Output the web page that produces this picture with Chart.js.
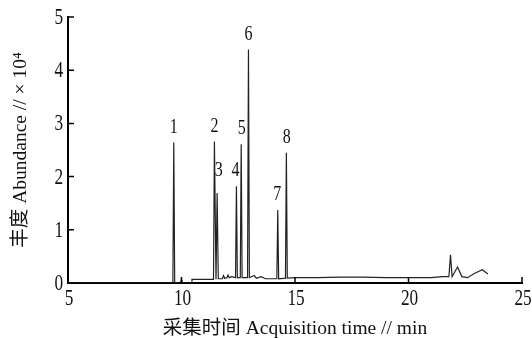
<!DOCTYPE html>
<html>
<head>
<meta charset="utf-8">
<script src="https://cdn.jsdelivr.net/npm/chart.js@4/dist/chart.umd.min.js"></script>
<style>
  html, body { margin: 0; padding: 0; background: #fff; }
  #wrap { width: 532px; height: 338px; }
</style>
</head>
<body>
<div id="wrap"><canvas id="chrom"></canvas></div>
<script>
// Chromatogram trace
const traceTime = [5, 9.62, 9.66, 9.70, 9.96, 9.99, 10.02, 10.45, 10.46, 11.0,
    11.41, 11.45, 11.52, 11.57, 11.62, 11.8, 11.85, 11.9, 12.0, 12.05,
    12.1, 12.2, 12.38, 12.42, 12.46, 12.59, 12.63, 12.67, 12.91, 12.95,
    12.99, 13.2, 13.3, 13.5, 13.7, 14.2, 14.24, 14.28, 14.58, 14.62,
    14.66, 15, 16, 17, 18, 19, 20, 21, 21.5, 21.78,
    21.85, 21.92, 22.0, 22.16, 22.35, 22.6, 22.9, 23.25, 23.5];
const traceAbundance = [0, 0, 2.64, 0, 0, 0.06, 0, 0, 0.07, 0.07,
    0.07, 2.66, 0.07, 1.69, 0.08, 0.08, 0.14, 0.09, 0.1, 0.15,
    0.1, 0.12, 0.1, 1.82, 0.1, 0.1, 2.61, 0.1, 0.1, 4.39,
    0.1, 0.14, 0.09, 0.12, 0.08, 0.08, 1.37, 0.08, 0.09, 2.45,
    0.09, 0.1, 0.1, 0.11, 0.11, 0.1, 0.1, 0.1, 0.12, 0.12,
    0.53, 0.12, 0.18, 0.3, 0.12, 0.1, 0.18, 0.25, 0.17];

// Peak numbers and where they sit
const peakLabels = ['1', '2', '3', '4', '5', '6', '7', '8'];
const peakTimes = [9.66, 11.45, 11.64, 12.38, 12.65, 12.95, 14.22, 14.64];
const labelTops = [2.64, 2.66, 1.83, 1.82, 2.61, 4.39, 1.37, 2.45];

const xTicks = [5, 10, 15, 20, 25];
const yTicks = [0, 1, 2, 3, 4, 5];

const serif = "'Liberation Serif', 'Noto Sans CJK SC', serif";

const points = traceTime.map((t, i) => ({ x: t, y: traceAbundance[i] }));

// narrow serif text like the original figure
function squeezed(ctx, text, x, y, sx) {
    ctx.save();
    ctx.translate(x, y);
    ctx.scale(sx, 1);
    ctx.fillText(text, 0, 0);
    ctx.restore();
}

// inward tick marks + tick labels on both axes
const axisDecor = {
    id: 'axisDecor',
    afterDraw(chart) {
        const ctx = chart.ctx;
        const xs = chart.scales.x, ys = chart.scales.y;
        ctx.save();
        ctx.strokeStyle = '#000';
        ctx.lineWidth = 1.5;
        ctx.beginPath();
        xTicks.forEach(v => {
            const px = xs.getPixelForValue(v);
            ctx.moveTo(px, ys.bottom);
            ctx.lineTo(px, ys.bottom - 6);
        });
        yTicks.forEach(v => {
            const py = ys.getPixelForValue(v);
            ctx.moveTo(xs.left, py);
            ctx.lineTo(xs.left + 6, py);
        });
        ctx.stroke();

        ctx.fillStyle = '#111';
        ctx.font = '23px ' + serif;
        ctx.textAlign = 'center';
        ctx.textBaseline = 'top';
        xTicks.forEach(v => squeezed(ctx, String(v), xs.getPixelForValue(v) + 1, ys.bottom + 4, 0.75));
        ctx.textAlign = 'right';
        ctx.textBaseline = 'middle';
        yTicks.forEach(v => squeezed(ctx, String(v), xs.left - 5, ys.getPixelForValue(v) + 1, 0.75));
        ctx.restore();
    }
};

// peak number labels
const peakNumbers = {
    id: 'peakNumbers',
    afterDatasetsDraw(chart) {
        const ctx = chart.ctx;
        const xs = chart.scales.x, ys = chart.scales.y;
        ctx.save();
        ctx.fillStyle = '#111';
        ctx.font = '20px ' + serif;
        ctx.textAlign = 'center';
        ctx.textBaseline = 'bottom';
        peakLabels.forEach((lab, i) => {
            squeezed(ctx, lab, xs.getPixelForValue(peakTimes[i]), ys.getPixelForValue(labelTops[i]) - 5, 0.8);
        });
        ctx.restore();
    }
};

new Chart(document.getElementById('chrom').getContext('2d'), {
    type: 'line',
    data: {
        datasets: [{
            data: points,
            borderColor: '#222',
            borderWidth: 1.2,
            pointRadius: 0,
            tension: 0,
            fill: false
        }]
    },
    options: {
        responsive: true,
        maintainAspectRatio: false,
        animation: false,
        layout: { padding: { left: 0, right: 10, top: 17, bottom: 0 } },
        plugins: { legend: { display: false }, tooltip: { enabled: false } },
        scales: {
            x: {
                type: 'linear',
                min: 5, max: 25,
                afterFit: s => { s.height = 55; },
                grid: { display: false },
                border: { display: true, color: '#000', width: 2 },
                ticks: { display: false },
                title: {
                    display: true,
                    text: '采集时间 Acquisition time // min',
                    color: '#111',
                    font: { family: serif, size: 19.5 },
                    padding: { top: 0, bottom: -3 }
                }
            },
            y: {
                min: 0, max: 5,
                afterFit: s => { s.width = 68; },
                grid: { display: false },
                border: { display: true, color: '#000', width: 2 },
                ticks: { display: false },
                title: {
                    display: true,
                    text: '丰度 Abundance // × 10⁴',
                    color: '#111',
                    font: { family: serif, size: 19.5 },
                    padding: { top: 9, bottom: 0 }
                }
            }
        }
    },
    plugins: [axisDecor, peakNumbers]
});
</script>
</body>
</html>
